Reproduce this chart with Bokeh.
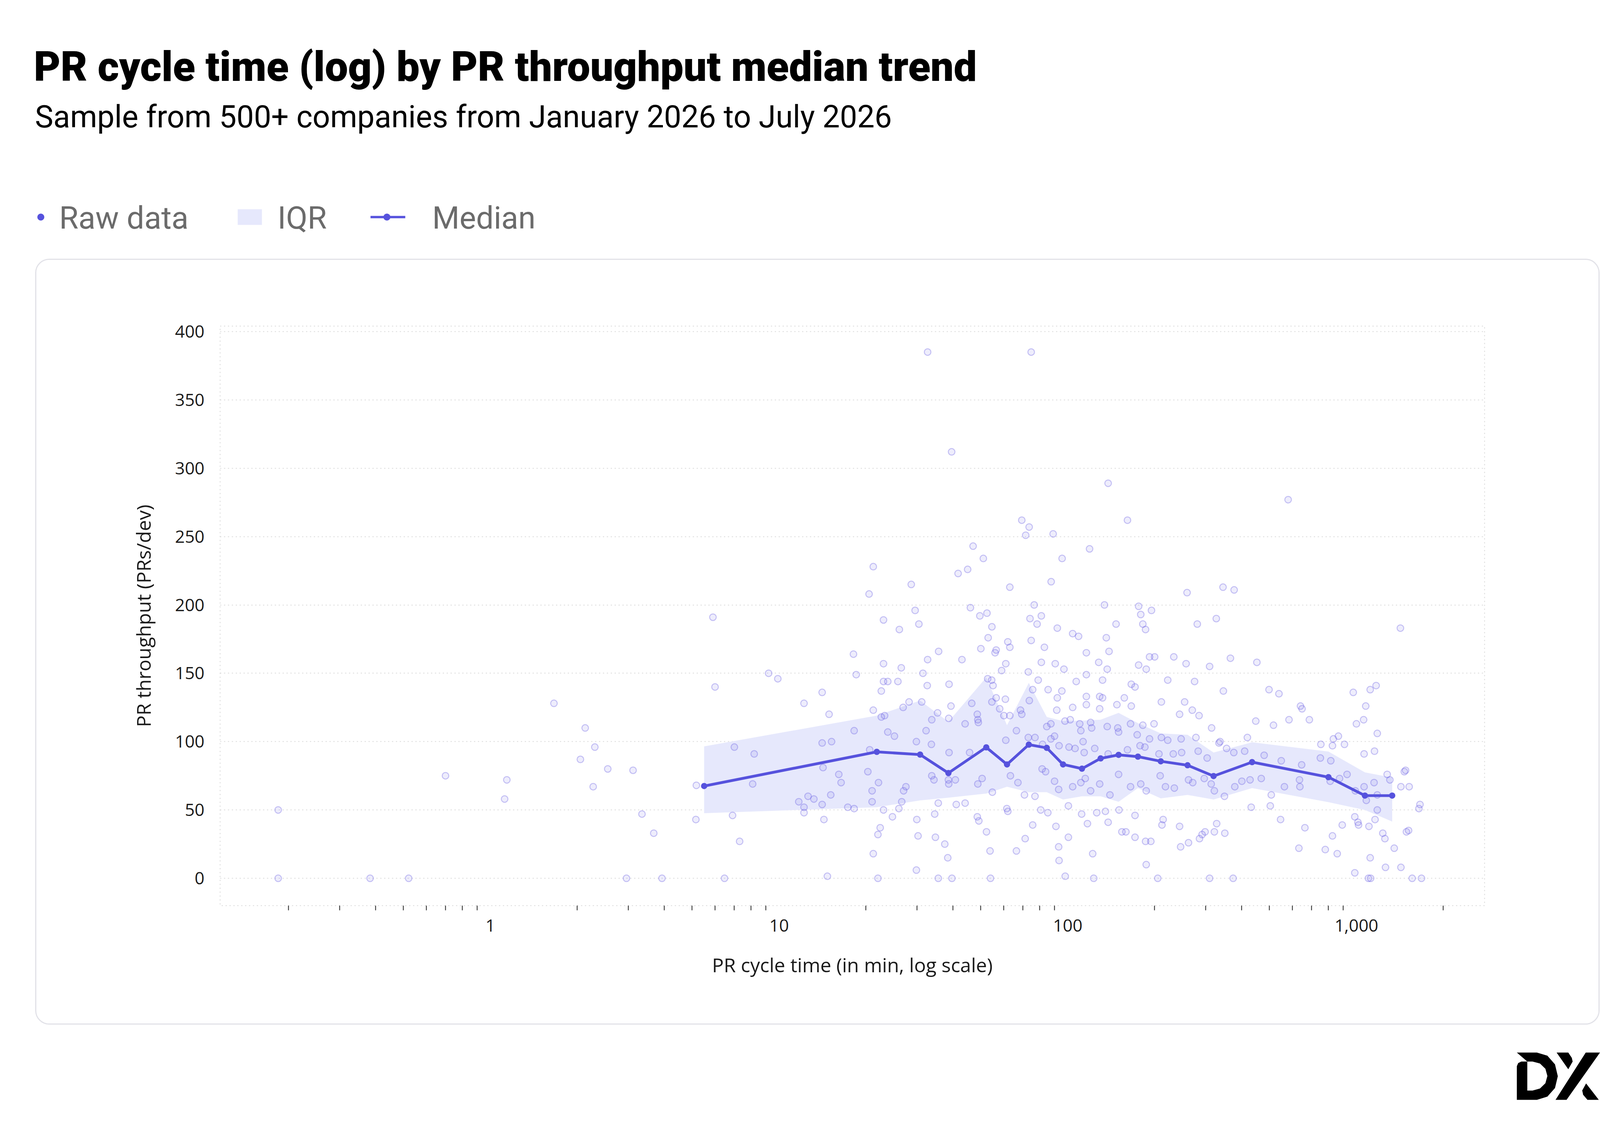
from bokeh.plotting import figure
from bokeh.layouts import column
from bokeh.models import Range1d, FixedTicker, NumeralTickFormatter
from bokeh.core.properties import value
from bokeh.embed import file_html
from bokeh.resources import INLINE

# ---------------- data ----------------
title_text = "PR cycle time (log) by PR throughput median trend"
subtitle_text = "Sample from 500+ companies from January 2026 to July 2026"
legend_labels = ["Raw data", "IQR", "Median"]
x_label = "PR cycle time (in min, log scale)"
y_label = "PR throughput (PRs/dev)"

y_ticks = [0, 50, 100, 150, 200, 250, 300, 350, 400]
x_major_ticks = [1, 10, 100, 1000]
x_minor_ticks = [0.2, 0.3, 0.4, 0.5, 0.6, 0.7, 0.8, 0.9,
                 2, 3, 4, 5, 6, 7, 8, 9,
                 20, 30, 40, 50, 60, 70, 80, 90,
                 200, 300, 400, 500, 600, 700, 800, 900, 2000]

# median trend (cycle time in min, throughput)
median_x = [5.5, 21.8, 30.8, 38.6, 52.2, 61.6, 73.3, 84.6, 96.3, 112,
            130, 150, 175, 210, 260, 320, 435, 800, 1070, 1330]
median_y = [67.5, 92.5, 90.5, 77, 95.8, 83.3, 97.8, 95.4, 83.3, 80.2,
            87.7, 90.3, 89, 85.6, 82.7, 74.8, 85, 74, 60.5, 60.5]
iqr_high = [96.5, 119, 130, 114.5, 147, 112, 143, 118, 115, 115.4,
            116, 121, 113.5, 106, 105, 92, 99.5, 92.7, 77.5, 73.7]
iqr_low = [47.6, 52, 57, 59, 62, 67, 63, 63, 57.6, 60,
           60, 56, 66, 58.5, 61, 57.6, 66, 55.7, 50, 41.5]

# raw data points (cycle time in min, throughput), grouped by region
raw_sparse_left = [(0.184, 50), (0.184, 0), (0.383, 0), (0.521, 0), (0.699, 75), (1.14, 72),
                   (1.12, 58), (1.66, 128), (2.05, 87), (2.13, 110), (2.30, 96), (2.55, 80),
                   (2.27, 67), (3.12, 79), (2.96, 0), (3.35, 47), (3.68, 33), (3.93, 0),
                   (5.9, 191), (6.47, 0)]
raw_upper = [(32.7, 385), (74.7, 385), (39.6, 312), (138, 289), (580, 277), (161, 262),
             (69.3, 262), (73.5, 257), (71.5, 251), (89, 252), (95.6, 234), (119, 241),
             (47, 243), (51, 234), (41.7, 223), (45, 226), (21.2, 228), (63, 213),
             (345, 213), (259, 209), (87.6, 217), (28.7, 215), (176, 199), (179, 193),
             (29.6, 196), (49.6, 192), (52.5, 194), (76.5, 200), (134, 200), (20.5, 208),
             (377, 211), (46, 198), (81, 192), (74, 190), (23, 189), (195, 196), (327, 190)]
raw_150_187 = [(30.5, 186), (26.1, 182), (54.6, 184), (78.3, 186), (92, 183), (147, 186),
               (182, 186), (186, 182), (281, 186), (1420, 183), (53, 176), (104, 179),
               (109, 177), (136, 176), (74.7, 174), (62, 173), (63, 169), (50, 168),
               (56.5, 167), (56, 165), (83, 169), (18.1, 164), (35.7, 166), (32.7, 160),
               (43, 160), (23, 157), (26.5, 154), (31.5, 150), (61, 157), (81, 158),
               (90.5, 157), (116, 165), (139, 166), (128, 158), (192, 162), (200, 162),
               (233, 162), (366, 161), (452, 158), (176, 156), (187, 153), (257, 157),
               (310, 155), (9.2, 150), (9.9, 146), (18.5, 149), (59, 152), (73, 151),
               (97, 153), (116, 149), (137, 153), (23, 144), (23.8, 144), (25.8, 144),
               (52.8, 146), (54.5, 145), (79, 145), (107, 144)]
raw_100_150 = [(6.0, 140), (22.6, 137), (14.1, 136), (32.6, 141), (38.8, 142), (55.1, 141),
               (75.6, 138), (85.5, 138), (95.4, 137), (132, 145), (166, 142), (171, 140),
               (222, 145), (275, 144), (346, 137), (498, 138), (539, 135), (975, 136),
               (1116, 138), (1170, 141), (116, 133), (129, 133), (132, 132), (157, 132),
               (56.5, 132), (60.8, 131), (73.6, 130), (92, 132), (12.2, 128), (26.9, 125),
               (31.2, 129), (28.2, 129), (39.4, 126), (46.5, 128), (54.6, 129), (58.1, 124),
               (68.6, 123), (91.6, 123), (104, 125), (116, 127), (148, 127), (166, 126),
               (211, 129), (254, 129), (640, 126), (648, 124), (1077, 126), (14.9, 120),
               (21.2, 123), (35.4, 121), (38.7, 117), (48.6, 120), (48.8, 116), (60.1, 119),
               (63, 119), (69.3, 120), (87.4, 113), (97.8, 115), (102, 116), (110, 113),
               (120, 114), (129, 124), (121, 110), (137, 111), (149, 110), (165, 113),
               (182, 112), (199, 113), (244, 120), (270, 123), (285, 119), (448, 115),
               (516, 112), (584, 116), (687, 116), (1059, 116), (1000, 113), (22.6, 118),
               (23.2, 119), (33.8, 116), (44.1, 113), (49, 114), (18.2, 108), (23.8, 107),
               (25.1, 104), (29.9, 100), (32.3, 108), (66.4, 108), (84.6, 111), (87.4, 102),
               (90, 104), (111, 108), (113, 100), (150, 107), (174, 105), (192, 102),
               (211, 103), (222, 101), (247, 102), (278, 103), (315, 110), (334, 99),
               (419, 103), (753, 98), (832, 102), (866, 104), (1181, 106)]
raw_60_100 = [(7.0, 96), (8.2, 91), (14.1, 99), (15.2, 100), (20.6, 94), (33.7, 98),
              (38.8, 92), (45.7, 92), (61, 101), (73, 103), (77, 103), (81.8, 98),
              (93.3, 97), (101, 96), (106, 95), (114, 92), (124, 95), (138, 91),
              (161, 94), (178, 97), (185, 96), (207, 91), (232, 91), (248, 92),
              (283, 93), (304, 88), (337, 100), (355, 95), (376, 92), (410, 93),
              (479, 90), (549, 86), (646, 83), (826, 97), (909, 98), (1063, 91),
              (1155, 93), (750, 88), (815, 86), (14.2, 81), (16.1, 76), (16.4, 70),
              (20.3, 78), (22.1, 70), (21, 64), (27.5, 67), (27, 64), (33.8, 75),
              (34.4, 72), (38.6, 72), (38.7, 69), (40.8, 72), (50.5, 73), (48.8, 69),
              (54.8, 63), (63.3, 75), (67.2, 70), (70.8, 61), (77, 60), (81.5, 80),
              (83.8, 78), (90, 71), (93, 65), (104, 67), (111, 70), (115, 73),
              (120, 64), (129, 69), (140, 61), (150, 76), (165, 67), (179, 69),
              (187, 64), (209, 75), (218, 67), (234, 66), (262, 72), (271, 70),
              (297, 73), (314, 69), (322, 64), (349, 60), (379, 67), (401, 71),
              (428, 72), (468, 73), (507, 61), (563, 67), (635, 72), (637, 67),
              (811, 71), (874, 73), (928, 76), (991, 64), (1063, 67), (1151, 70),
              (1181, 61), (1278, 76), (1306, 72), (1426, 67), (1523, 67), (1465, 78),
              (1480, 79), (8.1, 69), (5.17, 68)]
raw_below_60 = [(11.7, 56), (12.6, 60), (12.2, 52), (13.2, 58), (14.1, 54), (15.1, 61),
                (18.2, 51), (21, 56), (17.3, 52), (5.15, 43), (6.9, 46), (7.3, 27),
                (14.3, 43), (12.2, 48), (21.2, 18), (22, 32), (22.4, 37), (23, 50),
                (24.7, 45), (26, 51), (26.6, 56), (30, 43), (30.3, 31), (29.9, 6),
                (34.8, 30), (34.6, 47), (35.6, 55), (37.5, 25), (38.4, 15), (41.1, 54),
                (44.1, 55), (48.6, 45), (49.2, 42), (52.3, 34), (53.8, 20), (61.5, 51),
                (62, 49), (66.4, 20), (71.2, 29), (75.6, 39), (80.6, 50), (85.3, 48),
                (91, 38), (93, 23), (93.3, 13), (100.5, 53), (100.5, 30), (111.7, 47),
                (117, 40), (122, 18), (126, 48), (135, 49), (138, 41), (150.5, 50),
                (154, 34), (159, 34), (171, 46), (171, 30), (186, 27), (194, 27),
                (187, 10), (214, 43), (212, 39), (244, 38), (246, 23), (262, 26),
                (286, 29), (292, 32), (299, 34), (322, 34), (328, 40), (350, 33),
                (432, 52), (503, 53), (546, 43), (632, 22), (663, 37), (780, 21),
                (826, 31), (858, 18), (893, 39), (1017, 39), (987, 4), (1116, 15),
                (1234, 33), (1255, 29), (1261, 8), (1352, 22), (1426, 8), (1516, 35),
                (1490, 34), (1646, 51), (1660, 54), (987, 45), (1012, 41), (1160, 43),
                (1181, 50), (1082, 57), (1105, 38)]
raw_zero = [(14.7, 1.5), (22, 0), (35.6, 0), (39.7, 0), (54, 0), (98, 1.5), (123, 0),
            (205, 0), (310, 0), (374, 0), (1100, 0), (1120, 0), (1560, 0), (1680, 0)]

# ---------------- styling ----------------
INDIGO = "#5652dd"
POINT = "#5b4fe0"
BAND = "#e6e8fc"
GRID = "#d8d8d8"
PAGE_W = 4184


def blank_figure(height, y0, y1):
    f = figure(width=PAGE_W, height=height, x_range=Range1d(8, 8 + PAGE_W),
               y_range=Range1d(y1, y0), output_backend="svg", toolbar_location=None,
               min_border=0, x_axis_location=None, y_axis_location=None,
               frame_align=False)
    f.grid.visible = False
    f.outline_line_color = None
    f.background_fill_color = "white"
    f.border_fill_color = "white"
    return f


# ---------- header: title, subtitle, legend (page pixel coordinates) ----------
hdr = blank_figure(662, 8, 670)
hdr.scatter(x=[112], y=[563], marker="circle", size=18, fill_color=INDIGO, line_color=None)
hdr.quad(left=[616], right=[678], top=[543], bottom=[583], fill_color=BAND, line_color=None)
hdr.line(x=[956, 1045], y=[563, 563], line_color=INDIGO, line_width=6)
hdr.scatter(x=[998], y=[563], marker="circle", size=18, fill_color=INDIGO, line_color=None)
hdr.text(x=[159, 718, 1114], y=[612, 612, 612], text=legend_labels, text_font=value("Roboto"),
         text_font_size=value("80px"), text_color="#6b6b6b")
hdr.text(x=[97], y=[352], text=[subtitle_text], text_font=value("Roboto"),
         text_font_size=value("79px"), text_color="#000000")
hdr.text(x=[94], y=[240], text=[title_text], text_font=value("Roboto Black, Roboto"),
         text_font_size=value("79pt"), text_color="#000000")

# ---------- chart (inside a rounded card) ----------
p = figure(width=4005, height=1960, x_axis_type="log",
           x_range=Range1d(0.1158, 2779), y_range=Range1d(-20, 404),
           output_backend="svg", toolbar_location=None,
           min_border_left=470, min_border_right=298,
           min_border_top=169, min_border_bottom=308,
           margin=(0, 0, 0, 90), frame_align=False)
p.styles = {"border": "3px solid #e2e2e8", "border-radius": "36px", "overflow": "hidden"}
p.background_fill_color = "white"
p.border_fill_color = "white"
p.outline_line_color = GRID
p.outline_line_dash = "3 7"
p.outline_line_width = 2

xa = p.xaxis[0]
xa.ticker = FixedTicker(ticks=x_major_ticks, minor_ticks=x_minor_ticks)
xa.formatter = NumeralTickFormatter(format="0,0")
xa.axis_line_color = None
xa.major_tick_line_color = None
xa.major_tick_out = 0
xa.major_tick_in = 0
xa.minor_tick_out = 12
xa.minor_tick_in = 0
xa.minor_tick_line_color = "#222222"
xa.minor_tick_line_width = 2
xa.major_label_standoff = 23
xa.major_label_text_font = "Open Sans"
xa.major_label_text_font_size = "44px"
xa.major_label_text_color = "#1a1a1a"
xa.axis_label = x_label
xa.axis_label_standoff = 48
xa.axis_label_text_font = "Open Sans"
xa.axis_label_text_font_size = "50px"
xa.axis_label_text_font_style = "normal"
xa.axis_label_text_color = "#1a1a1a"

ya = p.yaxis[0]
ya.ticker = FixedTicker(ticks=y_ticks)
ya.axis_line_color = None
ya.major_tick_line_color = None
ya.minor_tick_line_color = None
ya.major_tick_out = 0
ya.major_tick_in = 0
ya.major_label_standoff = 40
ya.major_label_text_font = "Open Sans"
ya.major_label_text_font_size = "44px"
ya.major_label_text_color = "#1a1a1a"
ya.axis_label = y_label
ya.axis_label_standoff = 44
ya.axis_label_text_font = "Open Sans"
ya.axis_label_text_font_size = "50px"
ya.axis_label_text_font_style = "normal"
ya.axis_label_text_color = "#1a1a1a"

p.xgrid.visible = False
p.ygrid.grid_line_color = GRID
p.ygrid.grid_line_dash = "3 7"
p.ygrid.grid_line_width = 2

raw_all = (raw_sparse_left + raw_upper + raw_150_187 + raw_100_150 +
           raw_60_100 + raw_below_60 + raw_zero)
raw_x = [pt[0] for pt in raw_all]
raw_y = [pt[1] for pt in raw_all]

p.varea(x=median_x, y1=iqr_low, y2=iqr_high, fill_color=BAND, fill_alpha=1.0)
p.scatter(raw_x, raw_y, marker="circle", size=17, fill_color=POINT, fill_alpha=0.1,
          line_color=POINT, line_alpha=0.33, line_width=2.5)
p.line(median_x, median_y, line_color=INDIGO, line_width=7)
p.scatter(median_x, median_y, marker="circle", size=16, fill_color=INDIGO, line_color=None)

# ---------- footer: DX logo (page pixel coordinates, decoration) ----------
ftr = blank_figure(246, 2630, 2876)
logo_shapes = [
    ([(3890.6, 2700.9), (3942, 2700.9), (3968.8, 2709), (3988.3, 2731.2), (3995.5, 2761.4),
      (3988.3, 2791.7), (3968.8, 2813.8), (3942, 2821.9), (3890.6, 2821.9), (3890.6, 2736),
      (3894, 2728), (3902, 2724), (3917.4, 2724)], "#000000"),
    ([(3917.4, 2724), (3930.8, 2724), (3949.8, 2729), (3963.7, 2742.5), (3968.8, 2761),
      (3963.7, 2779.5), (3949.8, 2793), (3930.8, 2798.3), (3917.4, 2798.3)], "#ffffff"),
    ([(4067, 2700.9), (4103.6, 2700.9), (4017.9, 2821.9), (3989.7, 2821.9)], "#000000"),
    ([(3992.4, 2700.9), (4022.3, 2700.9), (4031.3, 2714.5), (4033.5, 2724),
      (4022.3, 2743.7)], "#000000"),
    ([(4067.9, 2780), (4100.4, 2821.9), (4071.4, 2821.9), (4060.3, 2809), (4058, 2798)], "#000000"),
]
for pts, col in logo_shapes:
    ftr.patch(x=[a for a, _ in pts], y=[b for _, b in pts], fill_color=col, line_color=None)

# header painted last (shown first via column-reverse)
layout = column(ftr, p, hdr, spacing=0, styles={"flex-direction": "column-reverse"})
open("out.html", "w").write(file_html(layout, INLINE))
